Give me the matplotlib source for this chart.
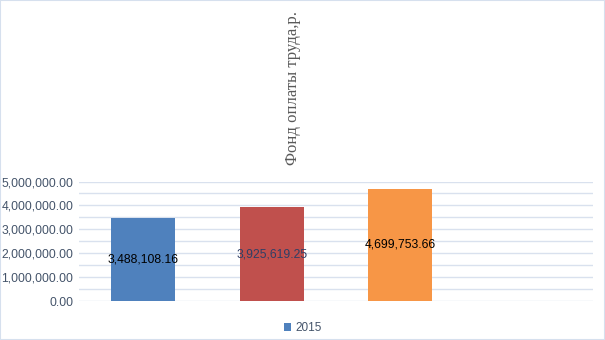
import matplotlib
matplotlib.use("Agg")
import matplotlib.pyplot as plt
from matplotlib.patches import Rectangle
from matplotlib.ticker import MultipleLocator, FuncFormatter

categories = ["1", "2", "3", ""]
values = [3488108.16, 3925619.25, 4699753.66]
bar_colors = ["#4F81BD", "#C0504D", "#F79646"]
label_colors = ["#000000", "#2E3F66", "#000000"]
series_name = "2015"
title = "Фонд оплаты труда,р."

fig = plt.figure(figsize=(6.05, 3.4), dpi=100)
fig.patch.set_facecolor("white")
fig.patches.append(Rectangle((0, 0), 1, 1, transform=fig.transFigure,
                             fill=False, edgecolor="#D6E0EE", linewidth=1.5))

ax = fig.add_axes([79 / 605, 1 - 301 / 340, 514 / 605, (301 - 181.5) / 340])
x = list(range(len(categories)))
ax.bar(x[:len(values)], values, width=0.5, color=bar_colors, zorder=3,
       label=series_name)
ax.set_xlim(-0.5, 3.5)
ax.set_ylim(0, 5000000)
ax.yaxis.set_major_locator(MultipleLocator(1000000))
ax.yaxis.set_minor_locator(MultipleLocator(500000))
ax.yaxis.set_major_formatter(FuncFormatter(lambda v, p: f"{v:,.2f}"))
ax.grid(axis="y", which="both", color="#D9E1EE", linewidth=1, zorder=0)
for s in ax.spines.values():
    s.set_visible(False)
ax.tick_params(axis="y", which="both", length=0, pad=4,
               labelcolor="#44546A", labelsize=8.7)
ax.tick_params(axis="x", length=0, labelbottom=False)
for lab in ax.get_yticklabels():
    lab.set_family("Liberation Sans")

for xi, v, c in zip(x, values, label_colors):
    ax.text(xi, v / 2, f"{v:,.2f}", ha="center", va="center",
            fontsize=8.7, color=c, family="Liberation Sans", zorder=4)

fig.text(293 / 605, 1 - 88 / 340, title, rotation=90, ha="center",
         va="center", fontsize=12, color="#595959", family="Liberation Serif")

handles, labels = ax.get_legend_handles_labels()
leg = fig.legend(handles[:1], [series_name], loc="center",
                 bbox_to_anchor=(303 / 605, 1 - 328 / 340), frameon=False,
                 handlelength=0.6, handleheight=0.6, handletextpad=0.4,
                 prop={"family": "Liberation Sans", "size": 8.5})
for t in leg.get_texts():
    t.set_color("#44546A")

fig.savefig("out.png", dpi=100)
